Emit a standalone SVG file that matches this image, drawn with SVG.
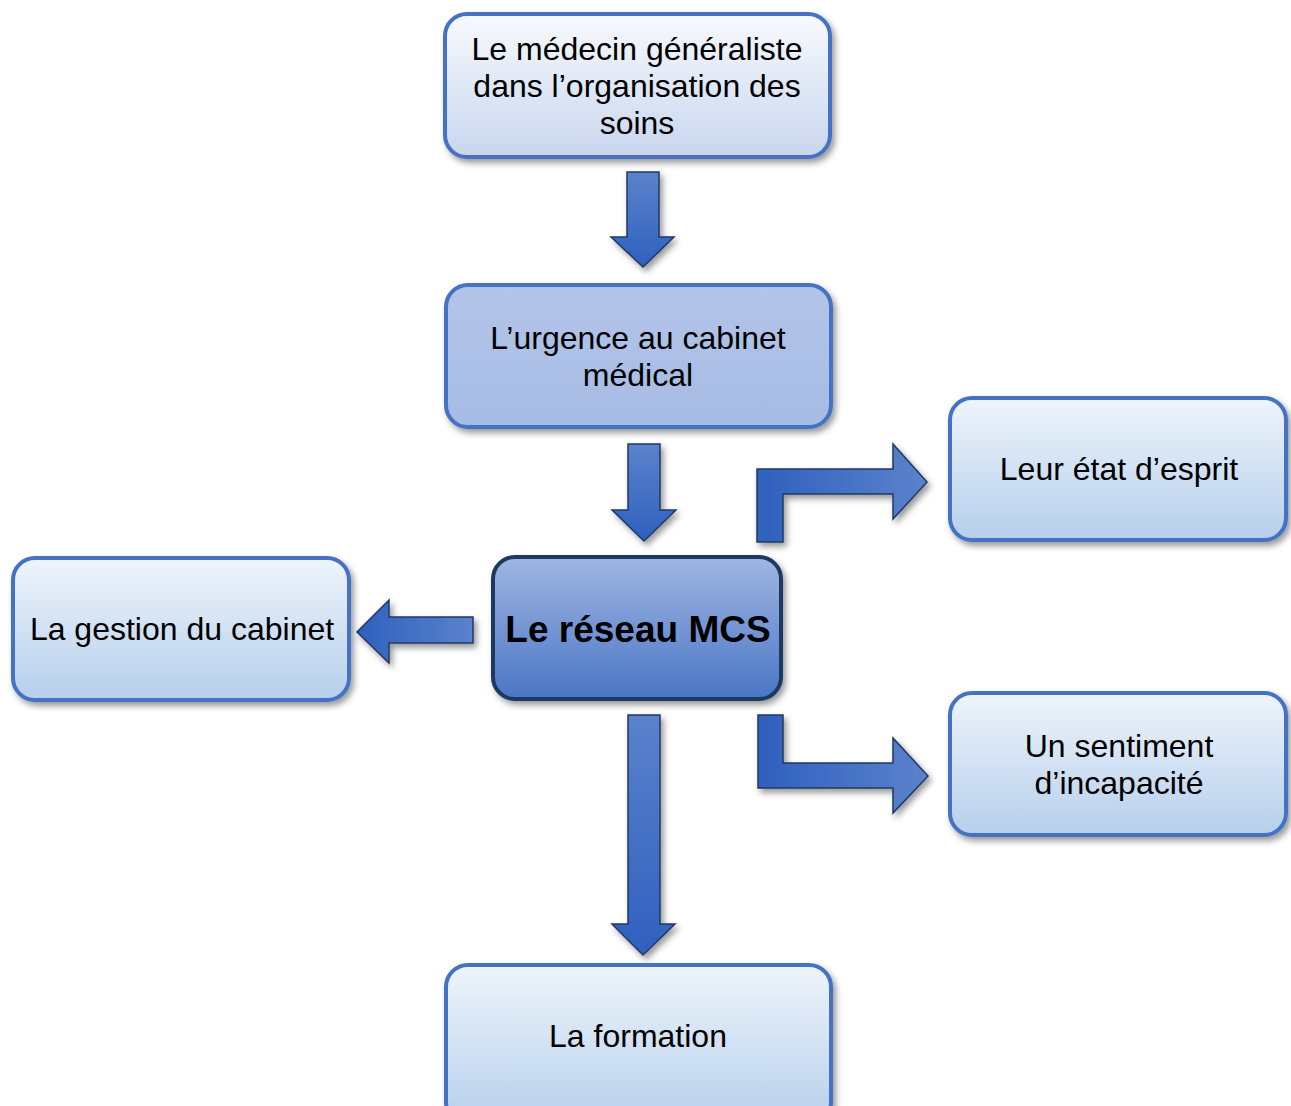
<svg xmlns="http://www.w3.org/2000/svg" width="1291" height="1106" viewBox="0 0 1291 1106">
<defs>
  <linearGradient id="gLight" x1="0" y1="0" x2="0" y2="1">
    <stop offset="0" stop-color="#f7f9fd"/>
    <stop offset="1" stop-color="#c9d6ef"/>
  </linearGradient>
  <linearGradient id="gSide" x1="0" y1="0" x2="0" y2="1">
    <stop offset="0" stop-color="#eef4fb"/>
    <stop offset="1" stop-color="#b6cfec"/>
  </linearGradient>
  <linearGradient id="gMid" x1="0" y1="0" x2="0" y2="1">
    <stop offset="0" stop-color="#b3c4e8"/>
    <stop offset="1" stop-color="#a6bbe4"/>
  </linearGradient>
  <linearGradient id="gCenter" x1="0" y1="0" x2="0" y2="1">
    <stop offset="0" stop-color="#a0b6e2"/>
    <stop offset="1" stop-color="#4a76c6"/>
  </linearGradient>
  <linearGradient id="gDown" x1="0" y1="0" x2="0" y2="1">
    <stop offset="0" stop-color="#5b82cc"/>
    <stop offset="1" stop-color="#2f60bd"/>
  </linearGradient>
  <linearGradient id="gRight" x1="0" y1="0" x2="1" y2="0">
    <stop offset="0" stop-color="#2f60bd"/>
    <stop offset="1" stop-color="#5b82cc"/>
  </linearGradient>
  <filter id="sh" x="-10%" y="-10%" width="125%" height="130%">
    <feDropShadow dx="3" dy="4" stdDeviation="3" flood-color="#000" flood-opacity="0.4"/>
  </filter>
</defs>
<style>
  .box { stroke: #4472c4; stroke-width: 4; filter: url(#sh); }
  .center { stroke: #1f3864; stroke-width: 4; filter: url(#sh); }
  .arrow { stroke: #1f3864; stroke-width: 1.5; stroke-linejoin: miter; filter: url(#sh); }
  text { font-family: "Liberation Sans", Arial, sans-serif; font-size: 32px; fill: #000; text-anchor: middle; }
  .bold { font-weight: bold; font-size: 37px; }
</style>

<g id="connectors">
  <polygon class="arrow" fill="url(#gDown)" points="627,172 659,172 659,237 674,237 643,267 611,237 627,237"/>
  <polygon class="arrow" fill="url(#gDown)" points="628,444 660,444 660,510 676,510 644,541 612,510 628,510"/>
  <polygon class="arrow" fill="url(#gDown)" points="628,715 660,715 660,924 675,924 643,955 612,924 628,924"/>
  <polygon class="arrow" fill="url(#gRight)" points="473,617 473,643 389,643 389,663 357,632 389,600 389,617"/>
  <polygon class="arrow" fill="url(#gRight)" points="757,542 757,469 893,469 893,444 927,482 893,519 893,494 783,494 783,542"/>
  <polygon class="arrow" fill="url(#gRight)" points="758,715 783,715 783,763 893,763 893,738 928,776 893,813 893,788 758,788"/>
</g>

<g id="node-medecin">
  <rect class="box" x="445" y="14" width="385" height="143" rx="22" fill="url(#gLight)"/>
  <text x="637" y="60">Le médecin généraliste</text>
  <text x="637" y="97">dans l’organisation des</text>
  <text x="637" y="134">soins</text>
</g>

<g id="node-urgence">
  <rect class="box" x="446" y="285" width="385" height="142" rx="22" fill="url(#gMid)"/>
  <text x="638" y="349">L’urgence au cabinet</text>
  <text x="638" y="386">médical</text>
</g>

<g id="node-reseau">
  <rect class="center" x="493" y="557" width="288" height="142" rx="22" fill="url(#gCenter)"/>
  <text class="bold" x="638" y="642">Le réseau MCS</text>
</g>

<g id="node-gestion">
  <rect class="box" x="13" y="558" width="336" height="142" rx="22" fill="url(#gSide)"/>
  <text x="182" y="640">La gestion du cabinet</text>
</g>

<g id="node-esprit">
  <rect class="box" x="950" y="398" width="336" height="142" rx="22" fill="url(#gSide)"/>
  <text x="1119" y="480">Leur état d’esprit</text>
</g>

<g id="node-incapacite">
  <rect class="box" x="950" y="693" width="336" height="142" rx="22" fill="url(#gSide)"/>
  <text x="1119" y="757">Un sentiment</text>
  <text x="1119" y="794">d’incapacité</text>
</g>

<g id="node-formation">
  <rect class="box" x="446" y="965" width="385" height="160" rx="22" fill="url(#gSide)"/>
  <text x="638" y="1047">La formation</text>
</g>
</svg>
